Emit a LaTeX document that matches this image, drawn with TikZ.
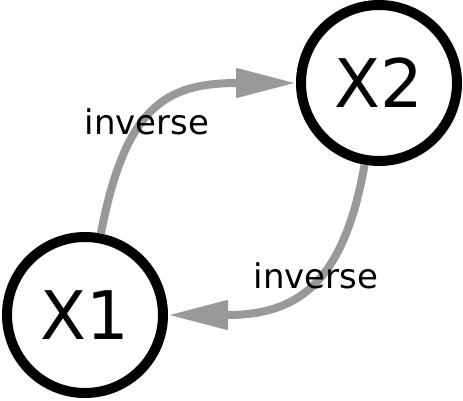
\documentclass[tikz,border=0pt]{standalone}
\usepackage{fontspec}
\setmainfont{DejaVu Sans}
\usetikzlibrary{arrows.meta, positioning}
\definecolor{arcgray}{HTML}{999999}

\begin{document}
\begin{tikzpicture}[x=1pt,y=-1pt,>={Triangle[length=60pt,width=28pt]},
                state/.style={circle,draw=black,line width=10pt,minimum size=156pt,
                inner sep=0pt,font=\fontsize{67}{70}\selectfont},
                rel/.style={->,draw=arcgray,line width=8pt},
                lbl/.style={anchor=base,inner sep=0pt,font=\fontsize{34}{40}\selectfont}]
                \useasboundingbox (0,0) rectangle (463,400);
                \node[state] (X1) at (85,315) {X1};
                \node[state] (X2) at (379,83) {X2};
                \draw[rel] (X1) to[out=79,in=180,looseness=1.35] (X2);
                \draw[rel] (X2) to[out=-100,in=0,looseness=1.3] (X1);
                \node[lbl] (inv12) at (147,134) {inverse};
                \node[lbl] (inv21) at (316,288) {inverse};
            \end{tikzpicture}
\end{document}
